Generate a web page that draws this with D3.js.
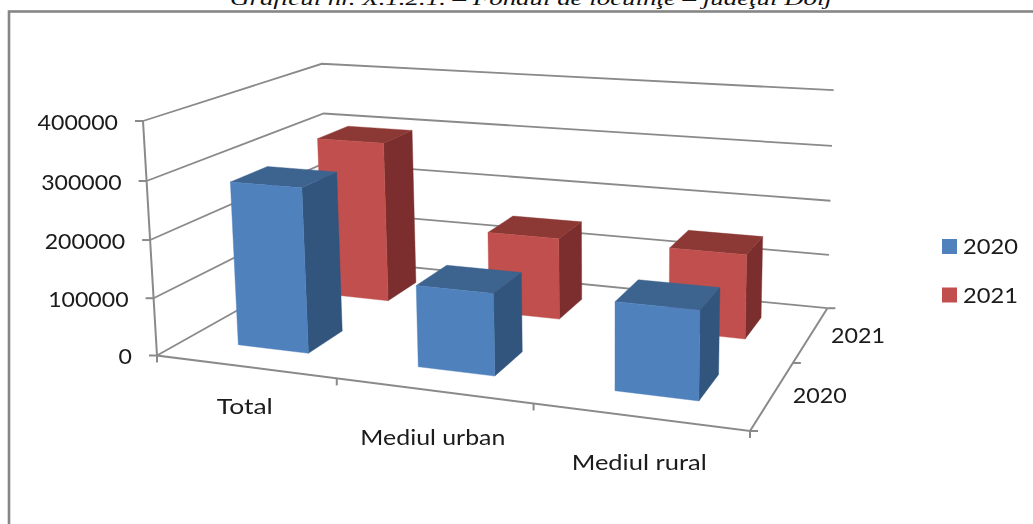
<!DOCTYPE html>
<html><head><meta charset="utf-8">
<script src="https://cdnjs.cloudflare.com/ajax/libs/d3/7.8.5/d3.min.js"></script>
<style>html,body{margin:0;padding:0;background:#fff;overflow:hidden}svg{display:block}</style>
</head><body><svg id="c" width="1033" height="524"></svg>
<script>
const titleText = "Graficul nr. X.1.2.1.  – Fondul de locuinţe – judeţul Dolj";
const categories = ["Total", "Mediul urban", "Mediul rural"];
const seriesNames = ["2020", "2021"];
const values2020 = [285000, 138000, 145000];
const values2021 = [298000, 148000, 149000];
const valueTicks = [0, 100000, 200000, 300000, 400000];

const svg = d3.select("#c");
const defs = svg.append("defs");
defs.append("filter").attr("id","soft").attr("x","-5%").attr("y","-5%").attr("width","110%").attr("height","110%")
  .append("feGaussianBlur").attr("stdDeviation",0.45);

// scales, all in the chart box's unit space
const uScale = d3.scaleBand().domain(categories).range([0,1]).paddingInner(0.6).paddingOuter(0.3);
const vScale = d3.scaleBand().domain(seriesNames).range([0,1]).paddingInner(0.6).paddingOuter(0.3);
const uCell = d3.scaleBand().domain(categories).range([0,1]);
const vCell = d3.scaleBand().domain(seriesNames).range([0,1]);
const zScale = d3.scaleLinear().domain([0,400000]).range([0,1]);

// projective camera: origin + three axis end points + homogeneous weights
const P0=[157,355.5], PU=[750,431], PV=[329,259], PZ=[143,121];
const WU=0.87, WV=1.21, WZ=0.97;
function project(u,v,z){
  const a=1-u-v-z, b=WU*u, c=WV*v, d=WZ*z, s=a+b+c+d;
  return [(a*P0[0]+b*PU[0]+c*PV[0]+d*PZ[0])/s,(a*P0[1]+b*PU[1]+c*PV[1]+d*PZ[1])/s];
}
const line=d3.line();
const stroke="#8a8a8a";

// outer frame
svg.append("rect").attr("x",9).attr("y",11.5).attr("width",1060).attr("height",560)
  .attr("fill","none").attr("stroke","#868686").attr("stroke-width",2.6);

// title
svg.append("text").text(titleText).attr("x",230).attr("y",4.5)
  .attr("textLength",602).attr("lengthAdjust","spacingAndGlyphs")
  .attr("font-family","'Liberation Serif',serif").attr("font-style","italic").attr("font-size",19).attr("fill","#111");

const g=svg.append("g").attr("filter","url(#soft)");

// wall gridlines
const gridG=g.append("g").attr("fill","none").attr("stroke",stroke).attr("stroke-width",1.8);
gridG.selectAll("path").data(valueTicks).join("path")
  .attr("d",t=>{const z=zScale(t);return line([project(0,0,z),project(0,1,z),project(1,1,z)]);});

// floor edges and axis lines
const axG=g.append("g").attr("fill","none").attr("stroke",stroke).attr("stroke-width",2);
axG.append("path").attr("d",line([project(0,0,1),project(0,0,0),project(1,0,0),project(1,1,0)]));
// category ticks
const uTicks=[0,...categories.map(c=>uCell(c)+uCell.bandwidth())];
axG.selectAll(".ut").data(uTicks).join("path").attr("class","ut")
  .attr("d",u=>{const p=project(u,0,0);return line([p,[p[0],p[1]+7]]);});
// series ticks
const vTicks=[0,...seriesNames.map(s=>vCell(s)+vCell.bandwidth())];
axG.selectAll(".vt").data(vTicks).join("path").attr("class","vt")
  .attr("d",v=>{const p=project(1,v,0);return line([p,[p[0]+8,p[1]]]);});
// value ticks
axG.selectAll(".zt").data(valueTicks).join("path").attr("class","zt")
  .attr("d",t=>{const p=project(0,0,zScale(t));return line([[p[0]-8,p[1]],p]);});

// bars, back series first
const palette={
  "2020":{front:"#4f81bd",side:"#30547e",top:"#3c638f"},
  "2021":{front:"#c0504d",side:"#7b2f2d",top:"#8c3735"}
};
const valuesBySeries={"2020":values2020,"2021":values2021};
const barsG=g.append("g");
[...seriesNames].reverse().forEach(s=>{
  const serie=barsG.append("g");
  const col=palette[s];
  const v0=vScale(s), v1=v0+vScale.bandwidth();
  categories.forEach((c,i)=>{
    const u0=uScale(c), u1=u0+uScale.bandwidth(), z=zScale(valuesBySeries[s][i]);
    const poly=(pts,fill)=>serie.append("path").attr("d",line(pts.map(p=>project(...p)))+"Z")
      .attr("fill",fill).attr("stroke",fill).attr("stroke-width",0.4);
    poly([[u1,v0,0],[u1,v1,0],[u1,v1,z],[u1,v0,z]],col.side);
    poly([[u0,v0,z],[u1,v0,z],[u1,v1,z],[u0,v1,z]],col.top);
    poly([[u0,v0,0],[u1,v0,0],[u1,v0,z],[u0,v0,z]],col.front);
  });
});

// text
const labelFont="Lato,sans-serif", labelColor="#1a1a1a";
const addLabel=(parent,str,x,y,w,anchor)=>{
  const t=parent.append("text").text(str).attr("x",x).attr("y",y).attr("dy","0.36em")
    .attr("font-family",labelFont).attr("font-size",22).attr("fill",labelColor);
  if(w) t.attr("textLength",w).attr("lengthAdjust","spacingAndGlyphs");
  if(anchor) t.attr("text-anchor",anchor);
  return t;
};
const txt=svg.append("g").attr("filter","url(#soft)");
// value labels: stretched to the width seen in the picture
const digitW=13.4;
valueTicks.forEach(t=>{
  const p=project(0,0,zScale(t)), str=String(t), w=str.length*digitW;
  addLabel(txt,str,p[0]-25-w,p[1]+1,w);
});
// category labels
const catDy=[39,46,45], catW=[56,145,135];
categories.forEach((c,i)=>{
  const p=project(uCell(c)+uCell.bandwidth()/2,0,0);
  addLabel(txt,c,p[0]-catW[i]/2,p[1]+catDy[i],catW[i]);
});
// series labels
seriesNames.forEach(s=>{
  const p=project(1,vCell(s)+vCell.bandwidth()/2,0);
  addLabel(txt,s,p[0]+20,p[1]+0.5,54);
});
// legend
const legendY=d3.scalePoint().domain(seriesNames).range([246.5,295]);
seriesNames.forEach(s=>{
  txt.append("rect").attr("x",942).attr("y",legendY(s)-7.5).attr("width",15).attr("height",15).attr("fill",palette[s].front);
  addLabel(txt,s,963,legendY(s),55);
});
</script></body></html>
